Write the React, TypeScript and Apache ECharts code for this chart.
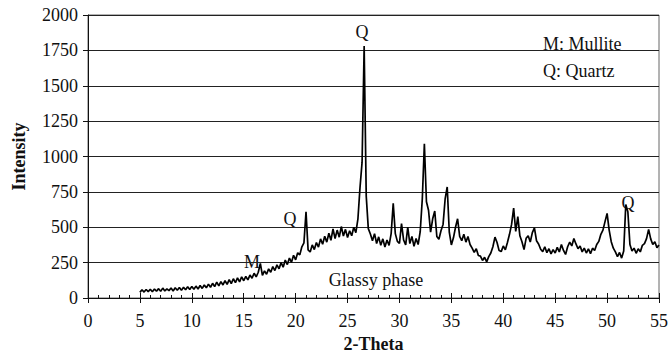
import React, { useEffect, useRef } from "react";
import * as echarts from "echarts";

// 2-Theta grid: 5.0 .. 55.0, step 0.2
const START = 5;
const STEP = 0.2;

const seg05to10 = [40, 58, 42, 60, 45, 62, 44, 63, 48, 66, 47, 70, 50, 64, 52, 71, 50, 72, 55, 74, 54, 76, 58, 80, 60, 82];
const seg10to15 = [62, 84, 64, 88, 68, 92, 72, 98, 76, 104, 80, 112, 86, 116, 92, 122, 96, 130, 102, 136, 108, 142, 114, 150, 122];
const seg15to20 = [152, 128, 162, 140, 175, 150, 182, 245, 160, 192, 168, 206, 182, 222, 194, 234, 206, 250, 218, 268, 236, 282, 252, 302, 270];
const seg20to25 = [320, 305, 362, 390, 610, 340, 325, 375, 342, 392, 360, 418, 380, 436, 395, 458, 408, 488, 420, 480, 430, 505, 438, 485, 428];
const seg25to30 = [475, 440, 500, 462, 560, 780, 960, 1780, 720, 490, 452, 405, 455, 385, 432, 372, 418, 360, 410, 372, 455, 670, 455, 400, 385];
const seg30to35 = [525, 410, 375, 500, 385, 435, 365, 420, 378, 470, 700, 1090, 680, 620, 465, 560, 615, 435, 415, 475, 520, 700, 785, 465, 375];
const seg35to40 = [425, 500, 560, 435, 405, 450, 395, 435, 378, 352, 322, 348, 300, 296, 265, 288, 255, 292, 318, 362, 430, 392, 335, 328, 368];
const seg40to45 = [340, 392, 450, 520, 635, 470, 575, 440, 398, 342, 422, 440, 396, 462, 495, 405, 382, 345, 328, 362, 320, 348, 312, 342, 318];
const seg45to50 = [358, 325, 378, 336, 308, 362, 395, 368, 420, 382, 348, 368, 326, 352, 318, 348, 314, 352, 336, 378, 400, 450, 480, 540, 598];
const seg50to55 = [480, 398, 352, 326, 292, 322, 282, 332, 660, 610, 378, 332, 352, 316, 348, 326, 372, 384, 420, 485, 418, 378, 398, 356, 375];

const intensity = [
  ...seg05to10, ...seg10to15, ...seg15to20, ...seg20to25, ...seg25to30,
  ...seg30to35, ...seg35to40, ...seg40to45, ...seg45to50, ...seg50to55,
];
const twoTheta = intensity.map((_, i) => +(START + i * STEP).toFixed(1));

const yTicks = { min: 0, max: 2000, interval: 250 };
const xTicks = { min: 0, max: 55, interval: 5 };

const FONT = "Liberation Serif";
const FS = 18;

export default function App() {
  const ref = useRef<HTMLDivElement>(null);
  useEffect(() => {
    if (!ref.current) return;
    const chart = echarts.init(ref.current, null, { renderer: "svg" });
    const txt = (x: number, y: number, text: string, align = "center") => ({
      type: "text",
      x,
      y,
      style: { text, fontFamily: FONT, fontSize: FS, fill: "#111", align, verticalAlign: "middle" },
    });
    chart.setOption({
      animation: false,
      backgroundColor: "#fff",
      grid: {
        left: 88, right: 9, top: 15, bottom: 56,
        outerBoundsMode: "none", containLabel: false,
        show: true, borderColor: "#666", borderWidth: 1,
      },
      xAxis: [
        {
          type: "value",
          min: xTicks.min,
          max: xTicks.max,
          interval: xTicks.interval,
          position: "bottom",
          name: "2-Theta",
          nameLocation: "middle",
          nameGap: 34,
          nameTextStyle: { fontFamily: FONT, fontSize: FS, fontWeight: "bold", color: "#111" },
          axisLine: { show: true, onZero: false, lineStyle: { color: "#111", width: 1 } },
          axisTick: { show: true, length: 5, lineStyle: { color: "#111" } },
          axisLabel: { fontFamily: FONT, fontSize: FS, color: "#111", margin: 14 },
          splitLine: { show: false },
        },
        {
          type: "value",
          min: xTicks.min,
          max: xTicks.max,
          interval: 1,
          position: "bottom",
          axisLine: { show: false },
          axisTick: { show: true, inside: true, length: 3, lineStyle: { color: "#111" } },
          axisLabel: { show: false },
          splitLine: { show: false },
        },
        {
          type: "value",
          min: xTicks.min,
          max: xTicks.max,
          interval: xTicks.interval,
          position: "bottom",
          axisLine: { show: false },
          axisTick: { show: true, inside: true, length: 5, lineStyle: { color: "#111" } },
          axisLabel: { show: false },
          splitLine: { show: false },
        },
      ],
      yAxis: {
        type: "value",
        min: yTicks.min,
        max: yTicks.max,
        interval: yTicks.interval,
        name: "Intensity",
        nameLocation: "middle",
        nameGap: 60,
        nameTextStyle: { fontFamily: FONT, fontSize: FS, fontWeight: "bold", color: "#111" },
        axisLine: { show: true, lineStyle: { color: "#111", width: 1 } },
        axisTick: { show: true, length: 5, lineStyle: { color: "#111" } },
        axisLabel: { fontFamily: FONT, fontSize: FS, color: "#111", margin: 10, formatter: (v: number) => String(v) },
        splitLine: { show: true, lineStyle: { color: "#222", width: 1 } },
      },
      series: [
        {
          type: "line",
          xAxisIndex: 0,
          data: twoTheta.map((t, i) => [t, intensity[i]]),
          showSymbol: false,
          symbol: "none",
          lineStyle: { color: "#000", width: 1.7 },
        },
      ],
      graphic: [
        txt(252, 262, "M"),
        txt(290, 219, "Q"),
        txt(362, 32, "Q"),
        txt(628, 203, "Q"),
        txt(376, 280, "Glassy phase"),
        txt(543, 44, "M: Mullite", "left"),
        txt(543, 71, "Q: Quartz", "left"),
      ],
    });
    return () => chart.dispose();
  }, []);
  return <div ref={ref} style={{ width: 668, height: 354, position: "absolute", left: 0, top: 0 }} />;
}
